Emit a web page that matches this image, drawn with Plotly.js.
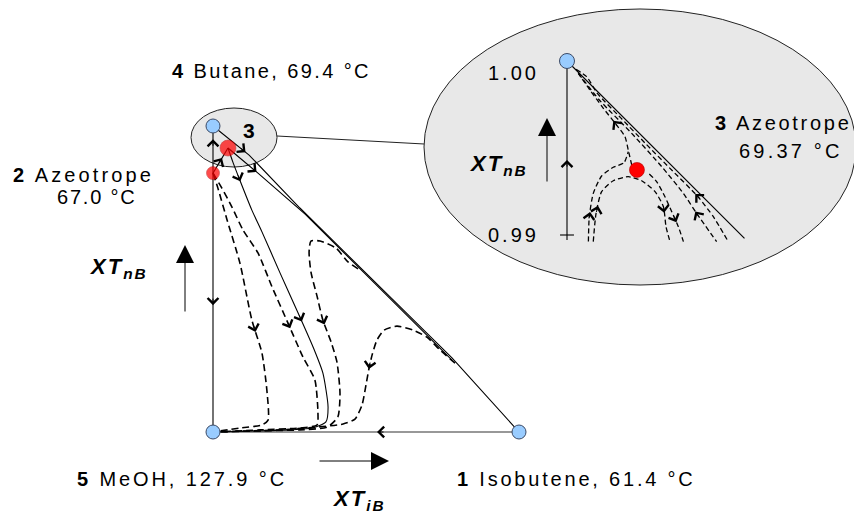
<!DOCTYPE html>
<html><head><meta charset="utf-8">
<script src="https://cdn.plot.ly/plotly-3.0.1.min.js"></script>
<style>html,body{margin:0;padding:0;background:#fff}</style>
</head><body><div id="chart" style="width:854px;height:515px"></div>
<script>
// ---------- main diagram: x = XT_iB, y = XT_nB (mole fractions) ----------
const blueNodeX = [1, 0, 0];          // 1 isobutene, 4 butane, 5 MeOH
const blueNodeY = [0, 1, 0];
const redNodeX = [0, 0.049];          // 2 azeotrope, 3 azeotrope
const redNodeY = [0.846, 0.928];

const edgeLeftX = [0, 0, 0];
const edgeLeftY = [0, 0.846, 1];
const edgeBottomX = [1, 0];
const edgeBottomY = [0, 0];
const az23X = [0, 0.049];
const az23Y = [0.846, 0.928];
const lineAX = [0, 0.118, 0.284, 0.781, 1];
const lineAY = [1, 0.905, 0.732, 0.242, 0];
const lineBX = [0.049, 0.147, 0.301, 0.781];
const lineBY = [0.928, 0.846, 0.712, 0.235];
const sepX = [0.049, 0.065, 0.085, 0.127, 0.160, 0.219, 0.284, 0.327, 0.359, 0.376, 0.369, 0.324, 0.252, 0];
const sepY = [0.928, 0.882, 0.830, 0.725, 0.654, 0.520, 0.376, 0.278, 0.193, 0.082, 0.033, 0.013, 0.007, 0];
const d1X = [0, 0.016, 0.046, 0.088, 0.127, 0.160, 0.176, 0.180, 0.160, 0.088, 0];
const d1Y = [0.846, 0.797, 0.693, 0.552, 0.366, 0.258, 0.137, 0.039, 0.023, 0.013, 0];
const d2X = [0, 0.029, 0.062, 0.098, 0.147, 0.193, 0.245, 0.294, 0.333, 0.343, 0.340, 0.284, 0.154, 0];
const d2Y = [0.846, 0.797, 0.735, 0.660, 0.585, 0.474, 0.356, 0.245, 0.170, 0.062, 0.023, 0.013, 0.007, 0];
const d3X = [0.474, 0.441, 0.402, 0.350, 0.320, 0.314, 0.320, 0.340, 0.359, 0.386, 0.405, 0.415, 0.408, 0.373, 0.284, 0.121, 0];
const d3Y = [0.533, 0.556, 0.601, 0.624, 0.624, 0.588, 0.523, 0.444, 0.366, 0.294, 0.229, 0.127, 0.049, 0.016, 0.007, 0.003, 0];
const d4X = [0.791, 0.742, 0.699, 0.654, 0.601, 0.559, 0.536, 0.520, 0.510, 0.500, 0.487, 0.464, 0.425, 0.340, 0.219, 0];
const d4Y = [0.225, 0.268, 0.310, 0.333, 0.346, 0.333, 0.301, 0.252, 0.209, 0.154, 0.088, 0.042, 0.026, 0.016, 0.007, 0];

// ---------- inset (zoom near butane corner) ----------
const insetTickVals = [0.99, 1.00];
const insetTickText = ['0.99', '1.00'];
const insetBlueX = [0];
const insetBlueY = [1];
const insetRedX = [0.00402];
const insetRedY = [0.99374];
const iAxisX = [0, 0];
const iAxisY = [0.98971, 1];
const iTickX = [-0.0004, 0.0004];
const iTickY = [0.99, 0.99];
const iDiagX = [0, 0.0102];
const iDiagY = [1, 0.9898];
const in1X = [0.00052, 0.00113, 0.00174, 0.00312, 0.00450, 0.00592, 0.00753, 0.00841, 0.00927];
const in1Y = [0.99952, 0.99910, 0.99814, 0.99670, 0.99527, 0.99383, 0.99220, 0.99105, 0.98962];
const in2X = [0.00065, 0.00186, 0.00372, 0.00544, 0.00669, 0.00745, 0.00860];
const in2Y = [0.99929, 0.99776, 0.99584, 0.99393, 0.99239, 0.99124, 0.98962];
const inSepX = [0.00372, 0.00352, 0.00333, 0.00285, 0.00209, 0.00132, 0.00065];
const inSepY = [0.99402, 0.99489, 0.99566, 0.99632, 0.99728, 0.99833, 0.99929];
const inLeftX = [0.00123, 0.00128, 0.00151, 0.00199, 0.00266, 0.00328, 0.00352];
const inLeftY = [0.98962, 0.99105, 0.99239, 0.99339, 0.99389, 0.99416, 0.99479];
const inArcX = [0.00151, 0.00167, 0.00199, 0.00266, 0.00352, 0.00429, 0.00506, 0.00554, 0.00569, 0.00592];
const inArcY = [0.98962, 0.99124, 0.99249, 0.99312, 0.99335, 0.99312, 0.99249, 0.99163, 0.99048, 0.98962];
const inRightX = [0.00473, 0.00515, 0.00563, 0.00602, 0.00640, 0.00669];
const inRightY = [0.99351, 0.99307, 0.99220, 0.99134, 0.99048, 0.98962];

// flow-direction arrows: curve, segment, fraction along segment, direction
const arrowCurve = ['left', 'left', 'bottom', 'az23', 'A', 'B', 'd1', 'd2', 'sep', 'sep', 'd3', 'd4',
                    'iAxis', 'in1', 'in2', 'inSep', 'inLeft', 'inArc', 'inArc', 'inRight'];
const arrowSeg = [0, 1, 0, 0, 0, 0, 4, 6, 2, 6, 8, 8, 0, 5, 4, 3, 1, 1, 7, 3];
const arrowT = [0.49, 0.72, 0.464, 0.6, 0.9, 0.95, 0.36, 0.15, 0.1, 0.15, 0.2, 0.05, 0.447, 0.9, 0.9, 0.25, 0.2, 0.35, 0.3, 0.7];
const arrowDir = [-1, 1, 1, 1, 1, 1, 1, 1, 1, 1, 1, 1, 1, -1, -1, 1, 1, 1, 1, 1];

// ---------- build ----------
const curves = {
  left: [edgeLeftX, edgeLeftY, 'x', 'y'], bottom: [edgeBottomX, edgeBottomY, 'x', 'y'],
  az23: [az23X, az23Y, 'x', 'y'], A: [lineAX, lineAY, 'x', 'y'], B: [lineBX, lineBY, 'x', 'y'],
  sep: [sepX, sepY, 'x', 'y'], d1: [d1X, d1Y, 'x', 'y'], d2: [d2X, d2Y, 'x', 'y'],
  d3: [d3X, d3Y, 'x', 'y'], d4: [d4X, d4Y, 'x', 'y'],
  iAxis: [iAxisX, iAxisY, 'x2', 'y2'], in1: [in1X, in1Y, 'x2', 'y2'], in2: [in2X, in2Y, 'x2', 'y2'],
  inSep: [inSepX, inSepY, 'x2', 'y2'], inLeft: [inLeftX, inLeftY, 'x2', 'y2'],
  inArc: [inArcX, inArcY, 'x2', 'y2'], inRight: [inRightX, inRightY, 'x2', 'y2']
};
const K = '#000';
const solid = {color: K, width: 1.1};
const dashed = {color: K, width: 1.6, dash: '7px,4px', shape: 'spline', smoothing: 0.6};
const dashedIn = {color: K, width: 1.3, dash: '5px,3px', shape: 'spline', smoothing: 0.6};
function trace(key, line) {
  const c = curves[key];
  return {x: c[0], y: c[1], xaxis: c[2], yaxis: c[3], mode: 'lines', line: line, hoverinfo: 'skip'};
}
const data = [
  trace('left', solid), trace('bottom', {color: '#333', width: 1.1}), trace('az23', solid),
  trace('A', solid), trace('B', solid),
  trace('sep', {color: K, width: 1.1, shape: 'spline', smoothing: 0.6}),
  trace('d1', dashed), trace('d2', dashed), trace('d3', dashed), trace('d4', dashed),
  {x: blueNodeX, y: blueNodeY, mode: 'markers', marker: {size: 14, color: '#99ccff', line: {color: '#3b4a66', width: 1}}, hoverinfo: 'skip'},
  {x: redNodeX, y: redNodeY, mode: 'markers', marker: {size: [13, 16], color: '#ff0000', line: {color: '#b00000', width: 0.6}}, hoverinfo: 'skip'},
  {x: iDiagX, y: iDiagY, xaxis: 'x2', yaxis: 'y2', mode: 'lines', line: solid, hoverinfo: 'skip'},
  trace('iAxis', solid),
  {x: iTickX, y: iTickY, xaxis: 'x2', yaxis: 'y2', mode: 'lines', line: solid, hoverinfo: 'skip'},
  trace('in1', dashedIn), trace('in2', dashedIn), trace('inSep', dashedIn),
  trace('inLeft', dashedIn), trace('inArc', dashedIn), trace('inRight', dashedIn),
  {x: insetBlueX, y: insetBlueY, xaxis: 'x2', yaxis: 'y2', mode: 'markers', marker: {size: 15, color: '#99ccff', line: {color: '#3b4a66', width: 1}}, hoverinfo: 'skip'},
  {x: insetRedX, y: insetRedY, xaxis: 'x2', yaxis: 'y2', mode: 'markers', marker: {size: 15, color: '#ff0000', line: {color: '#b00000', width: 0.6}}, hoverinfo: 'skip'}
];

const annotations = [];
for (let i = 0; i < arrowCurve.length; i++) {
  const c = curves[arrowCurve[i]], s = arrowSeg[i], t = arrowT[i], d = arrowDir[i];
  const x0 = c[0][s], y0 = c[1][s], x1 = c[0][s + 1], y1 = c[1][s + 1];
  const tx = x0 + (x1 - x0) * t, ty = y0 + (y1 - y0) * t;
  let ux = (x1 - x0) * d, uy = (y1 - y0) * d;
  const n = Math.hypot(ux, uy); ux /= n; uy /= n;
  annotations.push({x: tx, y: ty, xref: c[2], yref: c[3], ax: -ux * 8, ay: uy * 8, axref: 'pixel', ayref: 'pixel',
    text: '', showarrow: true, arrowhead: 4, arrowsize: 2.1, arrowwidth: 1, arrowcolor: K, standoff: 0});
}
// text placement helpers (pixel positions -> paper)
const W = 854, H = 515;
const px = v => v / W, py = v => 1 - v / H;
const F = 'Liberation Sans, Arial, sans-serif';
const sp = (t, s) => '<span style="letter-spacing:' + s + 'px">' + t + '</span>';
function label(text, x, y, size, anchor) {
  annotations.push({text: text, x: px(x), y: py(y), xref: 'paper', yref: 'paper', showarrow: false,
    xanchor: anchor || 'left', yanchor: 'middle', font: {family: F, size: size || 20, color: '#000'}});
}
label(sp('<b>4</b> Butane, 69.4 °C', 2.4), 170, 71);
label(sp('<b>2</b> Azeotrope', 3.1), 11, 175);
label(sp('67.0 °C', 1.8), 55, 197);
label(sp('<b>5</b> MeOH, 127.9 °C', 2.9), 75, 479);
label(sp('<b>1</b> Isobutene, 61.4 °C', 2.8), 455, 479);
label('<b>3</b>', 241, 130, 21);
label(sp('<b>3</b> Azeotrope', 2.7), 713, 123);
label(sp('69.37 °C', 3.2), 737, 151);
label(sp('<b><i>XT<sub>nB</sub></i></b>', 2), 87, 268, 22);
label(sp('<b><i>XT<sub>iB</sub></i></b>', 2), 330, 500, 22);
label(sp('<b><i>XT<sub>nB</sub></i></b>', 2), 467, 165, 22);
const tickShift = [0, -12];
for (let i = 0; i < insetTickVals.length; i++) {
  annotations.push({text: sp(insetTickText[i], 3), x: -0.00152, y: insetTickVals[i], xref: 'x2', yref: 'y2', showarrow: false,
    xanchor: 'right', yanchor: 'middle', yshift: tickShift[i], font: {family: F, size: 20, color: '#000'}});
}
// big direction arrows
function bigArrow(x, y, ax, ay) {
  annotations.push({x: px(x), y: py(y), xref: 'paper', yref: 'paper', ax: ax, ay: ay, text: '', showarrow: true,
    arrowhead: 2, arrowsize: 3.6, arrowwidth: 1, arrowcolor: K, standoff: 0});
}
bigArrow(185, 245, 0, 68);
bigArrow(389, 461, -71, 0);
bigArrow(547, 118, 0, 65);

const layout = {
  width: W, height: H, margin: {l: 0, r: 0, t: 0, b: 0},
  paper_bgcolor: '#fff', plot_bgcolor: 'rgba(0,0,0,0)', showlegend: false, hovermode: false,
  xaxis: {range: [-213 / 306, 641 / 306], visible: false, fixedrange: true},
  yaxis: {range: [-83 / 306, 432 / 306], visible: false, fixedrange: true},
  xaxis2: {range: [-567 / 17400, 287 / 17400], overlaying: 'x', visible: false, fixedrange: true},
  yaxis2: {range: [1 - 454 / 17400, 1 + 61 / 17400], overlaying: 'y', visible: false, fixedrange: true},
  shapes: [
    {type: 'circle', xref: 'x', yref: 'y', x0: -0.0719, x1: 0.2092, y0: 0.866, y1: 1.0588,
      fillcolor: '#e8e8e8', line: {color: '#222', width: 1}, layer: 'below'},
    {type: 'circle', xref: 'x2', yref: 'y2', x0: -0.008218, x1: 0.016609, y0: 0.987126, y1: 1.002989,
      fillcolor: '#e8e8e8', line: {color: '#222', width: 1}, layer: 'below'},
    {type: 'line', xref: 'x', yref: 'y', x0: 0.2092, y0: 0.9673, x1: 0.6895, y1: 0.9412,
      line: {color: '#222', width: 1}, layer: 'below'}
  ],
  annotations: annotations
};
Plotly.newPlot('chart', data, layout, {staticPlot: true, displayModeBar: false});
</script></body></html>
